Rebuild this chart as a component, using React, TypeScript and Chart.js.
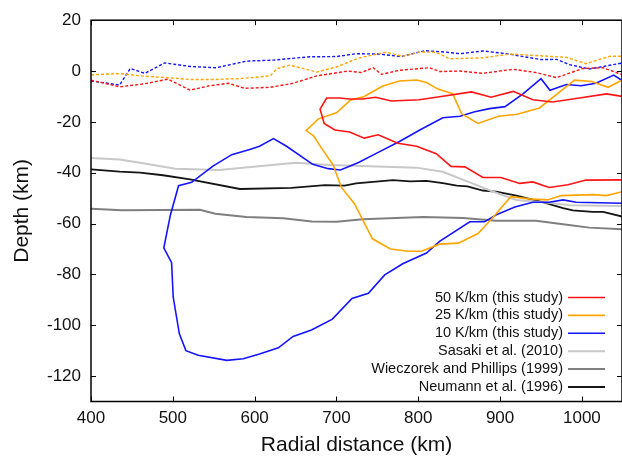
import { useEffect, useRef } from "react";
import { Chart, registerables } from "chart.js";

Chart.register(...registerables);

const FONT = "'Liberation Sans', Arial, Helvetica, sans-serif";

// Axis ticks
const xTicks = [400, 500, 600, 700, 800, 900, 1000];
const yTicks = [-120, -100, -80, -60, -40, -20, 0, 20];

// Legend labels
const labels = [
  "50 K/km (this study)",
  "25 K/km (this study)",
  "10 K/km (this study)",
  "Sasaki et al. (2010)",
  "Wieczorek and Phillips (1999)",
  "Neumann et al. (1996)",
];

// Solid curves: [radial distance km, depth km]
const k50 = [
  [1050, -10], [1030, -9], [997, -10.6], [964, -12.2], [940, -11.3], [916, -8], [889, -10.3],
  [865, -8.2], [822, -10.3], [801, -11.3], [767, -11.8], [748, -10.3], [732, -11], [716, -11],
  [704, -10.6], [688, -10.6], [680, -15], [685, -20.6], [698, -23.2], [716, -24], [734, -26.4],
  [751, -25.1], [775, -28.4], [798, -29.6], [822, -32.5], [840, -37.5], [857, -37.7], [879, -41.9],
  [901, -41.9], [924, -44.2], [940, -43.6], [960, -45.8], [983, -44.7], [1005, -42.9], [1050, -42.8],
];

const k25 = [
  [1050, -3.4], [1032, -6.4], [1012, -4.1], [991, -3.6], [966, -10], [948, -14.5], [921, -17],
  [898, -17.8], [873, -20.6], [853, -16.8], [842, -8.9], [824, -7.1], [810, -4.5], [798, -3.5],
  [777, -3.9], [756, -6], [734, -10], [717, -11.5], [700, -16.4], [678, -18.8], [663, -23.4],
  [672, -25.5], [683, -30.9], [696, -37], [706, -45.8], [722, -52.2], [744, -66], [766, -70],
  [788, -70.9], [804, -70.9], [826, -68.1], [849, -67.7], [873, -63.9], [891, -57.7], [913, -49.4],
  [936, -50.3], [958, -50.7], [975, -49], [1013, -48.6], [1030, -49], [1050, -47.4],
];

const k10 = [
  [1050, -3.9], [1039, -1.6], [1017, -4.8], [999, -5.8], [981, -5.3], [961, -7.6], [950, -3],
  [928, -9], [906, -14], [887, -14.8], [869, -16], [851, -17.8], [830, -18.4], [803, -23],
  [777, -27.7], [751, -32], [727, -36], [705, -38.9], [690, -38.4], [671, -36.7], [639, -29.6],
  [623, -26.6], [606, -29.6], [594, -30.9], [572, -32.9], [549, -37.4], [523, -43.8], [507, -45.1],
  [497, -56.7], [489, -69.6], [498.5, -75.4], [500.5, -89], [508, -103.4], [516, -110],
  [531, -111.8], [566, -113.8], [586, -113.2], [606, -111.3], [629, -108.9], [647, -104.4],
  [669.5, -101.9], [695, -97.6], [719, -89.5], [739, -87.4], [759, -80.2], [781, -75.8],
  [810, -71.6], [826, -67], [863, -59.3], [881, -59.3], [897, -56.3], [918, -53.5], [940, -51.6],
  [960, -51.6], [977, -50.7], [993, -51.6], [1050, -52],
];

const sasaki = [
  [400, -34.2], [435, -34.8], [460, -36.1], [503, -38.4], [557, -38.9], [650, -36.1], [692, -37],
  [798, -38], [830, -39.6], [863, -43.8], [891, -47.4], [920, -50.7], [960, -51.8], [985, -52.8],
  [1050, -53.1],
];

const wieczorek = [
  [400, -54.2], [438, -54.8], [533, -54.6], [552, -56.1], [590, -57.4], [635, -57.9], [670, -59.2],
  [700, -59.3], [732, -58.3], [806, -57.4], [855, -57.8], [895, -58.9], [944, -58.9], [977, -60.3],
  [1009, -61.6], [1050, -62.3],
];

const neumann = [
  [400, -38.7], [435, -39.6], [460, -40], [488, -41], [521, -42.6], [582, -46.4], [645, -46],
  [686, -44.9], [710, -45.1], [724, -44.2], [769, -42.9], [790, -43.4], [810, -43.2], [830, -44.1],
  [847, -45.1], [860, -45.4], [879, -47], [895, -47.4], [920, -49], [936, -50.3], [952, -51.6],
  [977, -53.9], [989, -54.8], [1013, -55.4], [1026, -55.4], [1050, -57.3],
];

// Dotted near-surface curves
const k50Top = [
  [400, -3.6], [435, -6.2], [464, -5.1], [494, -3.2], [521, -7.5], [545, -5.8], [568, -4.8],
  [588, -6.8], [619, -6.4], [647, -4.8], [676, -1.9], [714, 0], [730, -0.6], [745, 1.3],
  [755, -1.3], [777, 0.3], [814, 1.3], [826, -0.2], [851, 0], [879, -0.9], [916, 0.7],
  [944, -0.6], [969, -2.6], [1001, 1.0], [1026, 1.3], [1050, -1.5],
];

const k25Top = [
  [400, -1.5], [435, -1.0], [464, -2.0], [497, -2.7], [521, -3.3], [553, -3.3], [586, -2.9],
  [619, -1.9], [627, 0.9], [643, 2.3], [676, -0.4], [700, 1.6], [728, 5.2], [761, 7.4],
  [781, 5.8], [802, 7.5], [822, 7.4], [838, 4.8], [879, 5.2], [912, 6.7], [944, 6.1],
  [981, 5.4], [1005, 2.9], [1034, 5.8], [1050, 5.8],
];

const k10Top = [
  [400, -3.9], [435, -5.5], [448, 1.0], [466, -0.9], [490, 3.2], [521, 1.8], [553, 1.3],
  [590, 3.9], [623, 4.3], [667, 5.6], [700, 5.7], [724, 6.8], [751, 6.7], [779, 5.7],
  [808, 8.0], [832, 7.5], [851, 6.8], [879, 7.9], [908, 6.8], [950, 4.5], [969, 4.6],
  [985, 2.5], [1009, 0.8], [1050, 3.2],
];

const RED = "#ff1414";
const ORANGE = "#ffa500";
const BLUE = "#1414ff";
const LIGHT = "#c8c8c8";
const GRAY = "#7f7f7f";
const BLACK = "#151515";

const toXY = (arr: number[][]) => arr.map(([x, y]) => ({ x, y }));

const framePlugin = {
  id: "frameAndLegend",
  afterDraw(chart: any) {
    const { ctx, chartArea } = chart;
    const { left, right, top, bottom } = chartArea;
    const xs = chart.scales.x;
    const ys = chart.scales.y;
    ctx.save();
    ctx.strokeStyle = "#000";
    ctx.lineWidth = 1.5;
    ctx.strokeRect(left, top, right - left, bottom - top);
    ctx.lineWidth = 1;
    const tl = 5;
    ctx.beginPath();
    xTicks.forEach((v) => {
      const px = Math.round(xs.getPixelForValue(v)) + 0.5;
      ctx.moveTo(px, bottom);
      ctx.lineTo(px, bottom - tl);
      ctx.moveTo(px, top);
      ctx.lineTo(px, top + tl);
    });
    yTicks.forEach((v) => {
      const py = Math.round(ys.getPixelForValue(v)) + 0.5;
      ctx.moveTo(left, py);
      ctx.lineTo(left + tl, py);
      ctx.moveTo(right, py);
      ctx.lineTo(right - tl, py);
    });
    ctx.stroke();

    // Legend (text right-aligned, line sample on the right)
    const items = chart.data.datasets.filter((d: any) => d.inLegend);
    ctx.font = `14.5px ${FONT}`;
    ctx.textAlign = "right";
    ctx.textBaseline = "middle";
    items.forEach((d: any, i: number) => {
      const y = 297.5 + i * 17.9;
      ctx.fillStyle = "#111";
      ctx.fillText(d.label, 563, y);
      ctx.strokeStyle = d.borderColor;
      ctx.lineWidth = d.borderWidth;
      ctx.beginPath();
      ctx.moveTo(568, y);
      ctx.lineTo(605, y);
      ctx.stroke();
    });
    ctx.restore();
  },
};

export default function App() {
  const ref = useRef<HTMLCanvasElement | null>(null);

  useEffect(() => {
    document.body.style.margin = "0";
    if (!ref.current) return;
    const solid = (label: string, data: number[][], color: string, w: number) => ({
      label,
      data: toXY(data),
      borderColor: color,
      backgroundColor: color,
      borderWidth: w,
      showLine: true,
      pointRadius: 0,
      fill: false,
      tension: 0,
      inLegend: true,
    });
    const dotted = (label: string, data: number[][], color: string) => ({
      label,
      data: toXY(data),
      borderColor: color,
      backgroundColor: color,
      borderWidth: 1.4,
      borderDash: [3, 2],
      showLine: true,
      pointRadius: 0,
      fill: false,
      tension: 0,
      inLegend: false,
    });

    const chart = new Chart(ref.current, {
      type: "scatter",
      data: {
        datasets: [
          solid(labels[0], k50, RED, 1.6),
          solid(labels[1], k25, ORANGE, 1.6),
          solid(labels[2], k10, BLUE, 1.6),
          solid(labels[3], sasaki, LIGHT, 2),
          solid(labels[4], wieczorek, GRAY, 2),
          solid(labels[5], neumann, BLACK, 1.8),
          dotted("50 K/km surface", k50Top, RED),
          dotted("25 K/km surface", k25Top, ORANGE),
          dotted("10 K/km surface", k10Top, BLUE),
        ] as any,
      },
      options: {
        animation: false,
        responsive: false,
        devicePixelRatio: 1,
        layout: { padding: { top: 15.7, right: 0, bottom: 0, left: 0 } },
        plugins: {
          legend: { display: false },
          tooltip: { enabled: false },
        },
        scales: {
          x: {
            type: "linear",
            min: 400,
            max: 1049,
            afterBuildTicks: (s: any) => {
              s.ticks = xTicks.map((v) => ({ value: v }));
            },
            afterFit: (s: any) => {
              s.height = 58.5;
            },
            ticks: {
              autoSkip: false,
              maxRotation: 0,
              padding: 7,
              color: "#111",
              font: { family: FONT, size: 17 },
              callback: (v: any) => String(v),
            },
            grid: { display: false, drawTicks: false },
            border: { display: false },
            title: {
              display: true,
              text: "Radial distance (km)",
              color: "#111",
              font: { family: FONT, size: 21 },
              padding: { top: 0, bottom: 2.6 },
            },
          },
          y: {
            type: "linear",
            min: -130,
            max: 20,
            afterBuildTicks: (s: any) => {
              s.ticks = yTicks.map((v) => ({ value: v }));
            },
            afterFit: (s: any) => {
              s.width = 91;
            },
            ticks: {
              autoSkip: false,
              padding: 10,
              color: "#111",
              font: { family: FONT, size: 17 },
              callback: (v: any) => String(v),
            },
            grid: { display: false, drawTicks: false },
            border: { display: false },
            title: {
              display: true,
              text: "Depth (km)",
              color: "#111",
              font: { family: FONT, size: 21 },
              padding: { top: 9.4, bottom: 0 },
            },
          },
        },
      } as any,
      plugins: [framePlugin],
    });
    return () => chart.destroy();
  }, []);

  return (
    <div style={{ width: 622, height: 460 }}>
      <canvas ref={ref} width={622} height={460} />
    </div>
  );
}
